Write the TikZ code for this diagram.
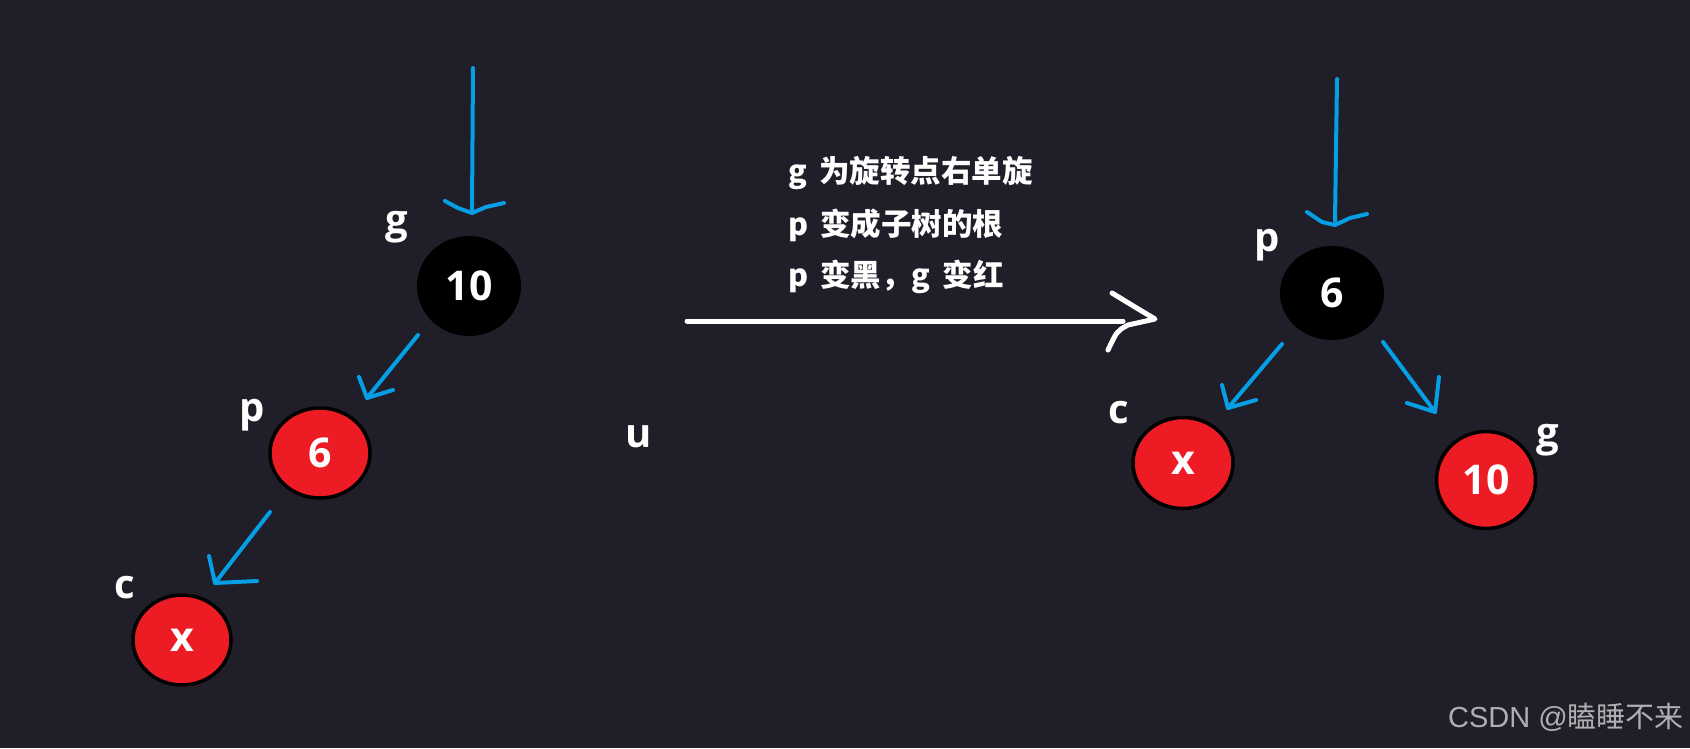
\documentclass[tikz,border=0pt]{standalone}
\usepackage{fontspec}
\setmainfont{Open Sans}
\newfontfamily\cjk{Noto Sans CJK SC}
\newfontfamily\wmlatin{Liberation Sans}
\usetikzlibrary{shapes.geometric}
\definecolor{bg}{RGB}{32,30,41}
\definecolor{myblue}{RGB}{6,158,228}
\definecolor{myred}{RGB}{237,28,36}
\definecolor{wm}{RGB}{175,175,178}
\begin{document}
\begin{tikzpicture}[x=1pt,y=-1pt,
  treenode/.style={ellipse,inner sep=0pt,text=white,font=\fontsize{41}{41}\selectfont\bfseries},
  blknode/.style={treenode,fill=black},
  rednode/.style={treenode,fill=myred,draw=black,line width=3.5pt},
  lbl/.style={text=white,font=\fontsize{40}{40}\selectfont\bfseries,inner sep=0pt},
  txt/.style={text=white,font=\cjk\bfseries\fontsize{30.5}{30.5}\selectfont,anchor=west,inner sep=0pt},
  edge/.style={draw=myblue,line width=4pt,line cap=round,line join=round},
  wedge/.style={draw=white,line width=5pt,line cap=round,line join=round}]
\fill[bg] (0,0) rectangle (1690,748);
\useasboundingbox (0,0) rectangle (1690,748);
% left tree
\node[blknode,minimum width=104pt,minimum height=100pt] (g1) at (469,286) {10};
\node[rednode,minimum width=100pt,minimum height=90pt] (p1) at (320,453) {6};
\node[rednode,minimum width=98pt,minimum height=90pt] (c1) at (182,640) {x};
\node[lbl] (lg1) at (397,227) {g};
\node[lbl] (lp1) at (252,415) {p};
\node[lbl] (lc1) at (125,588) {c};
\node[lbl] (lu) at (639,437) {u};
% right tree
\node[blknode,minimum width=104pt,minimum height=94pt] (p2) at (1332,293) {6};
\node[rednode,minimum width=100pt,minimum height=91pt] (c2) at (1183,463) {x};
\node[rednode,minimum width=99pt,minimum height=97pt] (g2) at (1486,480) {10};
\node[lbl] (lp2) at (1267,245) {p};
\node[lbl] (lc2) at (1119,413) {c};
\node[lbl] (lg2) at (1548,440) {g};
% text
\node[txt] (t1) at (788,173) {g\, 为旋转点右单旋};
\node[txt] (t2) at (788,225) {p\, 变成子树的根};
\node[txt] (t3) at (788,277) {p\, 变黑，g\, 变红};
\node[anchor=east,text=wm,font=\fontsize{29}{29}\selectfont,inner sep=0pt] (wmk) at (1684,717) {{\wmlatin CSDN @}{\cjk 瞌睡不来}};
% coordinates
\coordinate (s1a) at (473,68);  \coordinate (s1b) at (472,210);
\coordinate (s2a) at (418,335); \coordinate (s2b) at (367,398);
\coordinate (s3a) at (270,512); \coordinate (s3b) at (215,583);
\coordinate (s4a) at (1337,79); \coordinate (s4b) at (1335,221);
\coordinate (s5a) at (1282,344); \coordinate (s5b) at (1228,408);
\coordinate (s6a) at (1383,342); \coordinate (s6b) at (1435,412);
\coordinate (wa) at (687,321); \coordinate (wb) at (1123,321);
% blue arrows
\draw[edge] (s1a) -- (s1b);
\draw[edge] (445,201) -- (458,208) -- (472,213) -- (486,207) -- (504,203);
\draw[edge] (s2a) -- (s2b);
\draw[edge] (359,377) -- (s2b) -- (393,390);
\draw[edge] (s3a) -- (s3b);
\draw[edge] (209,556) -- (s3b) -- (257,581);
\draw[edge] (s4a) -- (s4b);
\draw[edge] (1307,212) -- (1322,222) -- (1335,225) -- (1350,218) -- (1367,214);
\draw[edge] (s5a) -- (s5b);
\draw[edge] (1222,385) -- (s5b) -- (1256,400);
\draw[edge] (s6a) -- (s6b);
\draw[edge] (1407,403) -- (s6b) -- (1439,377);
% white arrow
\draw[wedge] (wa) -- (wb);
\draw[wedge] (1112,293) -- (1135,307) -- (1155,319) -- (1128,325) .. controls (1117,331) .. (1108,350);
\end{tikzpicture}
\end{document}
